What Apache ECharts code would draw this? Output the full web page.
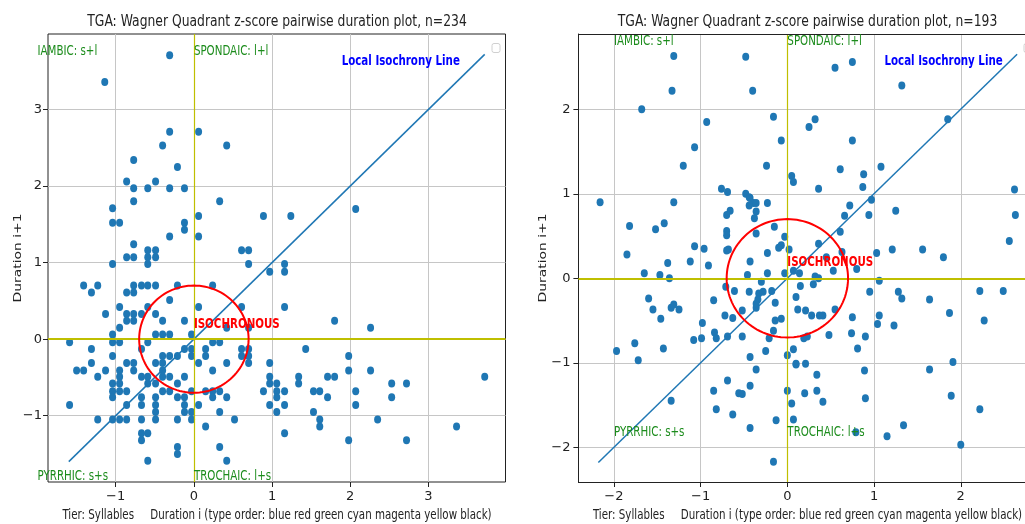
<!DOCTYPE html>
<html>
<head>
<meta charset="utf-8">
<script src="https://cdn.jsdelivr.net/npm/echarts@6/dist/echarts.min.js"></script>
<style>
  html, body { margin: 0; padding: 0; background: #ffffff; }
  #chart { width: 1025px; height: 524px; }
</style>
</head>
<body>
<div id="chart"></div>
<script>
// ---- n=234 panel: z-scored duration of syllable i (x) against syllable i+1 (y)
const leftDurI = [
  -0.31, -1.14, -0.31, 0.06, -0.40, 0.42, -0.77, -0.21, -0.86, -0.49,
  -0.77, -0.59, -0.31, -0.12, -0.77, 0.33, -1.04, -1.04, -0.95, 0.06,
  0.89, 1.24, 2.07, -0.12, -0.12, -0.31, 0.06, -0.77, 0.61, 0.70,
  -0.59, -0.49, -0.86, -0.77, -0.59, -0.49, -1.04, -0.59, 0.70, 0.97,
  1.16, 1.16, -1.41, -1.23, -1.31, -0.77, -0.67, -0.59, -0.49, -0.21,
  0.24, -0.86, -0.77, -0.31, -0.95, -0.59, 0.06, 0.61, 1.16, -1.13,
  -0.86, -0.77, -0.67, -0.49, -0.86, -0.77, -0.40, -0.12, 1.80, -0.95,
  0.42, 0.70, 2.26, -1.04, -0.49, -0.40, -0.31, -0.03, -1.59, -1.04,
  -0.95, -0.59, 0.24, 0.33, -1.31, -0.67, -0.12, -0.03, 0.15, 0.61,
  0.70, 1.43, -1.04, -0.40, -0.31, -0.21, -0.03, 0.15, 0.61, 0.70,
  1.98, -1.31, -0.86, -0.77, -0.49, -0.40, 0.06, 0.42, 0.70, 0.97,
  -1.50, -1.41, -1.13, -0.95, -0.77, -0.40, 0.24, 1.98, 2.26, -1.23,
  -0.95, -0.67, -0.59, -0.40, -0.31, -0.12, 0.97, 1.34, 1.71, 1.80, 3.72,
  -1.04, -0.95, -0.59, -0.49, -0.21, 0.97, 1.06, 1.34, 2.53, 2.72,
  -1.04, -0.95, -0.86, -0.40, -0.31, -0.03, 0.15, 0.24, 0.33, 0.89, 1.06, 1.16, 1.53, 1.61, 2.07,
  -1.04, -0.67, -0.49, -0.21, -0.12, 0.24, 0.42, 1.06, 1.71, 2.53,
  -1.59, -0.86, -0.67, -0.49, -0.12, 0.06, 0.97, 1.16, 2.07,
  -0.49, -0.12, -0.03, 0.33, 1.06, 1.53,
  -1.23, -1.04, -0.95, -0.86, -0.67, -0.49, -0.21, -0.03, 0.52, 1.61, 2.35,
  0.15, 1.61, 3.36,
  -0.67, -0.59, 1.16,
  -0.67, 1.98, 2.72,
  -0.21, 0.33,
  -0.21,
  -0.59, 0.42
];
const leftDurNext = [
  3.71, 3.36, 2.71, 2.71, 2.53, 2.53, 2.34, 2.25, 2.06, 2.06,
  1.97, 1.97, 1.97, 1.97, 1.80, 1.80, 1.71, 1.52, 1.52, 1.61,
  1.61, 1.61, 1.70, 1.52, 1.43, 1.34, 1.34, 1.24, 1.16, 1.16,
  1.16, 1.16, 1.07, 1.07, 1.07, 1.07, 0.98, 0.98, 0.98, 0.88,
  0.98, 0.88, 0.70, 0.70, 0.61, 0.70, 0.70, 0.70, 0.70, 0.70,
  0.70, 0.61, 0.61, 0.51, 0.42, 0.42, 0.42, 0.42, 0.42, 0.33,
  0.33, 0.33, 0.33, 0.33, 0.24, 0.24, 0.24, 0.24, 0.24, 0.15,
  0.15, 0.15, 0.15, 0.06, 0.06, 0.06, 0.06, 0.06, -0.04, -0.04,
  -0.04, -0.04, -0.04, -0.04, -0.13, -0.13, -0.13, -0.13, -0.13, -0.13,
  -0.13, -0.13, -0.22, -0.22, -0.22, -0.22, -0.22, -0.22, -0.22, -0.22,
  -0.22, -0.31, -0.31, -0.31, -0.31, -0.31, -0.31, -0.31, -0.31, -0.31,
  -0.41, -0.41, -0.41, -0.41, -0.41, -0.41, -0.41, -0.41, -0.41, -0.49,
  -0.49, -0.49, -0.49, -0.49, -0.49, -0.49, -0.49, -0.49, -0.49, -0.49, -0.49,
  -0.58, -0.58, -0.58, -0.58, -0.58, -0.58, -0.58, -0.58, -0.58, -0.58,
  -0.68, -0.68, -0.68, -0.68, -0.68, -0.68, -0.68, -0.68, -0.68, -0.68, -0.68, -0.68, -0.68, -0.68, -0.68,
  -0.76, -0.76, -0.76, -0.76, -0.76, -0.76, -0.76, -0.76, -0.76, -0.76,
  -0.86, -0.86, -0.86, -0.86, -0.86, -0.86, -0.86, -0.86, -0.86,
  -0.95, -0.95, -0.95, -0.95, -0.95, -0.95,
  -1.05, -1.05, -1.05, -1.05, -1.05, -1.05, -1.05, -1.05, -1.05, -1.05, -1.05,
  -1.14, -1.14, -1.14,
  -1.23, -1.23, -1.23,
  -1.32, -1.32, -1.32,
  -1.41, -1.41,
  -1.50,
  -1.59, -1.59
];

// ---- n=193 panel
const rightDurI = [
  -1.31, -0.48, -1.33, -0.40, -1.68, -0.93, -0.16, -0.07, -1.07, -1.20,
  -0.24, 0.05, 0.07, -0.76, -0.69, -0.48, -0.43, -0.39, -0.44, -0.23,
  -2.16, -1.31, -0.36, -0.66, -0.70, -0.38, -1.82, -1.52, -1.42, -0.15,
  -0.70, -0.36, -0.03, -1.07, -0.96, -0.07, -0.10, 0.02, -0.70, -0.68, -0.36,
  -1.85, -1.38, -1.12, -0.91, -1.65, -1.47, -1.36, -0.70, -0.43,
  -0.23, -0.46, -0.23, -0.03, -0.30, -0.71, -0.61, -0.44, -0.33, -0.28,
  -0.18, -0.34, -0.14, -1.60, -1.55, -1.34, -1.31, -1.25, -1.46, -0.85,
  -0.52, -0.36, -0.72, -0.63, -0.98, -0.07, -0.14, -0.84, -0.82, -0.69,
  -0.52, -0.16, -0.21, -0.99, -1.08, -1.76, -1.43, -1.97, -1.72, -0.25,
  -0.43, 0.00, 0.07, 0.10, -0.36, -0.69, -0.85, -0.56, -0.52, -0.43,
  0.00, 0.05, 0.07, -1.34, -0.82, -0.63, -0.13, -0.43, -0.16, -0.36,
  0.55, 0.75, 1.32, 1.85, 0.32, 0.25, 0.75, 0.61, 1.08, 0.88,
  0.87, 0.36, 0.97, 0.72, 0.66, 0.94, 1.25, 2.62, 2.63, 2.56,
  0.61, 0.36, 0.63, 1.03, 1.21, 1.56, 1.80, 0.45, 0.53, 0.80,
  0.07, 0.14, 0.32, 0.36, 0.30, 0.15, 1.06, 0.95, 1.28, 1.32,
  1.64, 2.22, 2.49, 1.87, 2.27, 0.10, 0.12, 0.21, 0.28, 0.37,
  0.41, 0.55, 0.75, 1.06, 1.04, 1.23, 0.74, 0.90, 0.48, 0.19,
  0.23, 0.81, 0.10, 0.21, 0.34, 0.34, 0.20, 0.41, 0.89, 0.90,
  1.64, 1.91, 1.89, 2.22, 1.34, 1.15, 0.79, 2.00, -0.44
];
const rightDurNext = [
  2.63, 2.62, 2.22, 2.22, 2.00, 1.85, 1.91, 1.63, 1.55, 1.33,
  1.33, 1.21, 1.14, 1.06, 1.02, 1.00, 0.95, 0.89, 0.86, 0.89,
  0.90, 0.90, 0.79, 0.80, 0.75, 0.71, 0.62, 0.58, 0.65, 0.61,
  0.56, 0.53, 0.49, 0.38, 0.35, 0.39, 0.36, 0.34, 0.51, 0.34, 0.89,
  0.28, 0.18, 0.20, 0.15, 0.06, 0.04, 0.00, 0.33, 0.20,
  0.30, 0.04, 0.06, 0.06, -0.04, -0.10, -0.15, -0.16, -0.18, -0.16,
  -0.15, -0.25, -0.29, -0.24, -0.37, -0.35, -0.31, -0.37, -0.48, -0.26,
  -0.38, -0.35, -0.44, -0.47, -0.53, -0.48, -0.50, -0.64, -0.71, -0.69,
  -0.69, -0.62, -0.71, -0.71, -0.73, -0.77, -0.83, -0.86, -0.97, -0.86,
  -0.93, -0.91, -0.84, -1.02, -1.08, -1.21, -1.33, -1.36, -1.37, -1.27,
  -1.33, -1.48, -1.67, -1.45, -1.55, -1.61, -1.68, -1.77, -2.17, -0.30,
  2.49, 2.56, 2.28, 1.88, 1.88, 1.79, 1.63, 1.29, 1.32, 1.23,
  1.08, 1.06, 0.93, 0.86, 0.74, 0.75, 0.80, 1.05, 0.75, 0.44,
  0.55, 0.41, 0.31, 0.30, 0.34, 0.34, 0.25, 0.25, 0.09, 0.11,
  0.09, 0.06, 0.02, 0.00, -0.07, -0.09, -0.03, -0.16, -0.16, -0.24,
  -0.25, -0.15, -0.15, -0.41, -0.50, -0.22, -0.37, -0.38, -0.44, -0.44,
  -0.44, -0.37, -0.46, -0.44, -0.54, -0.56, -0.65, -0.69, -0.67, -0.71,
  -0.69, -0.83, -1.01, -1.01, -1.14, -1.33, -1.36, -1.46, -1.09, -1.42,
  -1.08, -0.99, -1.39, -1.55, -1.74, -1.87, -1.82, -1.97, 0.96
];

// isochrony diagonal (y = x) runs between the smallest and largest z-score of each panel
const leftIsoLine = [-1.60, 3.72];
const rightIsoLine = [-2.18, 2.65];
// radius of the "isochronous" zone around the origin, in z units
const isoRadius = 0.7;

// tick labels
const leftTicksX = [-1, 0, 1, 2, 3];
const leftTicksY = [-1, 0, 1, 2, 3];
const rightTicksX = [-2, -1, 0, 1, 2];
const rightTicksY = [-2, -1, 0, 1, 2];

// titles and captions
const leftTitle = 'TGA: Wagner Quadrant z-score pairwise duration plot, n=234';
const rightTitle = 'TGA: Wagner Quadrant z-score pairwise duration plot, n=193';
const xCaption = 'Tier: Syllables     Duration i (type order: blue red green cyan magenta yellow black)';
const yCaption = 'Duration i+1';

// quadrant / zone annotations: text and where it sits, in data units
const quadLabels = ['IAMBIC: s+l', 'SPONDAIC: l+l', 'PYRRHIC: s+s', 'TROCHAIC: l+s'];
const leftQuadX = [-2.0, 0.0, -2.0, 0.0];
const leftQuadY = [3.69, 3.69, -1.85, -1.85];
const rightQuadX = [-2.0, 0.0, -2.0, 0.0];
const rightQuadY = [2.75, 2.75, -1.88, -1.88];
const zoneLabel = 'ISOCHRONOUS';
const leftZoneXY = [0.0, 0.135];
const rightZoneXY = [0.0, 0.13];
const lineLabel = 'Local Isochrony Line';
const leftLineLabelXY = [1.89, 3.56];
const rightLineLabelXY = [1.12, 2.51];

// ------------------------------------------------------------------
const FONT = 'DejaVu Sans';
const SQUEEZE = 0.74;          // horizontal compression applied to drawn strings
const BASE_FS = 13.9;
const DOT = '#1f77b4';
const INK = '#222222';

function tickText(v) {
  if (Math.abs(v - Math.round(v)) > 1e-6) return '';
  const r = Math.round(v);
  return r < 0 ? '\u2212' + Math.abs(r) : String(r);
}

function zip(a, b) { return a.map((v, i) => [v, b[i]]); }

// text placed by data coordinate; y is the text baseline
function annotationSeries(idx, items) {
  return {
    type: 'custom',
    xAxisIndex: idx, yAxisIndex: idx,
    silent: true, clip: false, z: 6,
    data: items.map((it, i) => [it.x, it.y, i]),
    renderItem: function (params, api) {
      const it = items[api.value(2)];
      const p = api.coord([api.value(0), api.value(1)]);
      return {
        type: 'text',
        x: p[0], y: p[1] - 0.35 * it.size,
        scaleX: SQUEEZE,
        style: {
          text: it.text, fill: it.color,
          font: (it.bold ? 'bold ' : '') + it.size + 'px ' + FONT,
          align: 'left', verticalAlign: 'middle'
        }
      };
    }
  };
}

function panel(idx, cfg) {
  // open panels (cut by the page edge) draw only left, bottom and top edges
  const grid = {
    left: cfg.left, top: 34, width: cfg.width, height: 448,
    show: !cfg.open, borderColor: INK, borderWidth: 1, backgroundColor: 'transparent'
  };
  const axisCommon = (ticks, margin) => ({
    type: 'value', gridIndex: idx,
    axisLine: { show: !!cfg.open, onZero: false, lineStyle: { color: INK, width: 1 } },
    axisTick: { show: true, inside: false, length: 5, lineStyle: { color: INK, width: 1 }, customValues: ticks },
    axisLabel: { customValues: ticks, formatter: tickText, color: INK, fontSize: 13, fontFamily: FONT, margin: margin },
    splitLine: { show: true, lineStyle: { color: '#c6c6c6', width: 1 } }
  });
  const xAxis = Object.assign(axisCommon(cfg.ticksX, 8), { min: cfg.xRange[0], max: cfg.xRange[1] });
  const yAxis = Object.assign(axisCommon(cfg.ticksY, cfg.yMargin), { min: cfg.yRange[0], max: cfg.yRange[1] });

  const guideLines = [
    { xAxis: 0, lineStyle: { color: '#bfbf00', width: 1.2, type: 'solid' } },
    { yAxis: 0, lineStyle: { color: '#bfbf00', width: 2, type: 'solid' } }
  ];
  if (cfg.open) {
    guideLines.push({ yAxis: cfg.yRange[1], lineStyle: { color: INK, width: 1, type: 'solid' } });
  }

  const series = [
    {
      type: 'scatter', xAxisIndex: idx, yAxisIndex: idx,
      data: zip(cfg.xs, cfg.ys),
      symbol: 'circle', symbolSize: [7, 8],
      itemStyle: { color: DOT, opacity: 1 },
      z: 2, silent: true
    },
    {
      type: 'line', xAxisIndex: idx, yAxisIndex: idx,
      data: [[cfg.iso[0], cfg.iso[0]], [cfg.iso[1], cfg.iso[1]]],
      showSymbol: false, symbol: 'none',
      lineStyle: { color: DOT, width: 1.5 },
      z: 4, silent: true,
      markLine: {
        silent: true, symbol: ['none', 'none'], label: { show: false },
        lineStyle: { color: '#bfbf00', type: 'solid' },
        data: guideLines
      }
    },
    {
      type: 'custom', xAxisIndex: idx, yAxisIndex: idx,
      silent: true, z: 5,
      data: [[0, 0, isoRadius]],
      renderItem: function (params, api) {
        const c = api.coord([api.value(0), api.value(1)]);
        const s = api.size([api.value(2), api.value(2)]);
        const pts = [];
        for (let k = 0; k <= 120; k++) {
          const t = (k / 120) * Math.PI * 2;
          pts.push([c[0] + s[0] * Math.cos(t), c[1] + s[1] * Math.sin(t)]);
        }
        return {
          type: 'polyline',
          shape: { points: pts },
          style: { fill: 'none', stroke: '#ff0000', lineWidth: 2 }
        };
      }
    },
    annotationSeries(idx, cfg.quadX.map((x, i) => ({
      x: x, y: cfg.quadY[i], text: quadLabels[i], color: '#1c8c1c', size: BASE_FS, bold: false
    })).concat([
      { x: cfg.zone[0], y: cfg.zone[1], text: zoneLabel, color: '#ff0000', size: BASE_FS, bold: true },
      { x: cfg.lineLbl[0], y: cfg.lineLbl[1], text: lineLabel, color: '#0000ff', size: BASE_FS, bold: true }
    ]))
  ];

  const cx = cfg.centerX;
  const graphic = [
    {
      type: 'text', x: cx, y: 21.5, scaleX: SQUEEZE, z: 10, silent: true,
      style: { text: cfg.title, fill: INK, font: '16.7px ' + FONT, align: 'center', verticalAlign: 'middle' }
    },
    {
      type: 'text', x: cx, y: 515, scaleX: SQUEEZE, z: 10, silent: true,
      style: { text: xCaption, fill: INK, font: BASE_FS + 'px ' + FONT, align: 'center', verticalAlign: 'middle' }
    },
    {
      type: 'text', x: cfg.yCapX, y: 258, rotation: Math.PI / 2, scaleY: SQUEEZE, z: 10, silent: true,
      style: { text: yCaption, fill: INK, font: BASE_FS + 'px ' + FONT, align: 'center', verticalAlign: 'middle' }
    },
    {
      type: 'rect', z: 10, silent: true,
      shape: { x: cfg.legendX, y: 43.5, width: 8, height: 9, r: 2 },
      style: { fill: '#ffffff', stroke: '#d0d0d0', lineWidth: 1 }
    }
  ];
  return { grid, xAxis, yAxis, series, graphic };
}

const panels = [
  panel(0, {
    left: 48, width: 457.5, centerX: 277,
    xRange: [-1.866, 3.986], yRange: [-1.866, 3.986],
    ticksX: leftTicksX, ticksY: leftTicksY, yMargin: 6,
    xs: leftDurI, ys: leftDurNext, iso: leftIsoLine,
    quadX: leftQuadX, quadY: leftQuadY, zone: leftZoneXY, lineLbl: leftLineLabelXY,
    title: leftTitle, yCapX: 18, legendX: 492
  }),
  // the right panel runs past the page edge, so its plot box stops at the edge
  // and the x range is cut to keep 86.7 px per unit
  panel(1, {
    left: 578.4, width: 446.6, centerX: 807.5, open: true,
    xRange: [-2.41, 2.741], yRange: [-2.41, 2.89],
    ticksX: rightTicksX, ticksY: rightTicksY, yMargin: 8,
    xs: rightDurI, ys: rightDurNext, iso: rightIsoLine,
    quadX: rightQuadX, quadY: rightQuadY, zone: rightZoneXY, lineLbl: rightLineLabelXY,
    title: rightTitle, yCapX: 543, legendX: 1024
  })
];

const chart = echarts.init(document.getElementById('chart'), null, { renderer: 'canvas' });
chart.setOption({
  animation: false,
  backgroundColor: '#ffffff',
  grid: panels.map(p => p.grid),
  xAxis: panels.map(p => p.xAxis),
  yAxis: panels.map(p => p.yAxis),
  series: panels.flatMap(p => p.series),
  graphic: panels.flatMap(p => p.graphic)
});
</script>
</body>
</html>
